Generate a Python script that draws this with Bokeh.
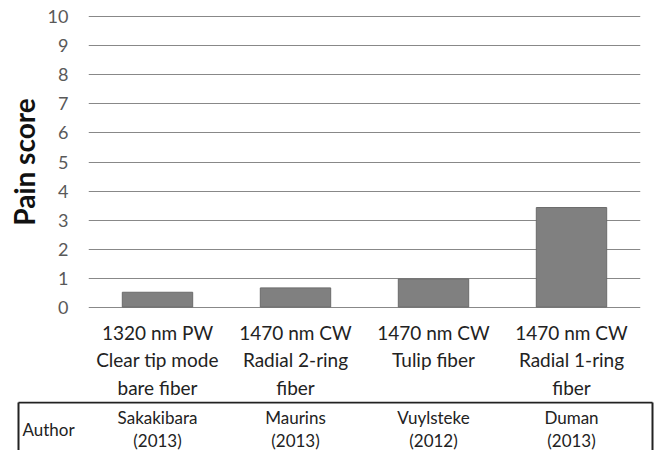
from bokeh.plotting import figure
from bokeh.models import FactorRange, Range1d, FixedTicker
from bokeh.layouts import column
from bokeh.core.properties import value
from bokeh.embed import file_html
from bokeh.resources import INLINE

# ---- data ----
category_labels = [
    "1320 nm PW\nClear tip mode\nbare fiber",
    "1470 nm CW\nRadial 2-ring\nfiber",
    "1470 nm CW\nTulip fiber",
    "1470 nm CW\nRadial 1-ring\nfiber",
]
pain_scores = [0.51, 0.66, 0.97, 3.43]
authors = ["Sakakibara", "Maurins", "Vuylsteke", "Duman"]
years = ["(2013)", "(2013)", "(2012)", "(2013)"]
y_ticks = list(range(0, 11))

FONT = "Lato"
W = 662
FL, FR = 88, 640          # frame left/right in px
TOP_H = 401
TABLE_H = 49

p = figure(width=W, height=TOP_H, x_range=FactorRange(*category_labels, range_padding=0),
           y_range=Range1d(-0.05, 10.05), output_backend="svg", toolbar_location=None,
           min_border_left=FL, min_border_right=W - FR, min_border_top=15,
           min_border_bottom=TOP_H - 309)
p.frame_align = False
p.outline_line_color = None
p.background_fill_color = "white"
p.border_fill_color = "white"

p.vbar(x=category_labels, top=pain_scores, width=0.51, fill_color="#808080",
       line_color="#6b6b6b", line_width=1)

p.xgrid.grid_line_color = None
p.ygrid.ticker = FixedTicker(ticks=y_ticks)
p.ygrid.grid_line_color = "#888888"
p.ygrid.grid_line_width = 1

p.yaxis.ticker = FixedTicker(ticks=y_ticks)
p.yaxis.axis_line_color = None
p.yaxis.major_tick_line_color = None
p.yaxis.minor_tick_line_color = None
p.yaxis.major_label_text_font = FONT
p.yaxis.major_label_text_font_size = "18px"
p.yaxis.major_label_text_color = "#595959"
p.yaxis.major_label_standoff = 14
p.yaxis.axis_label = "Pain score"
p.yaxis.axis_label_text_font = FONT
p.yaxis.axis_label_text_font_style = "bold"
p.yaxis.axis_label_text_font_size = "28px"
p.yaxis.axis_label_text_color = "#111111"
p.yaxis.axis_label_standoff = 4

p.xaxis.axis_line_color = None
p.xaxis.major_tick_line_color = None
p.xaxis.minor_tick_line_color = None
p.xaxis.major_label_text_font = FONT
p.xaxis.major_label_text_font_size = "19px"
p.xaxis.major_label_text_color = "#222222"
p.xaxis.major_label_standoff = 6

# ---- table below ----
step = (FR - FL) / len(category_labels)
t = figure(width=W, height=TABLE_H,
           x_range=Range1d(-FL / step, (W - FL) / step),
           y_range=Range1d(TABLE_H, 0), output_backend="svg",
           toolbar_location=None, min_border=0)
t.frame_align = False
t.outline_line_color = None
t.axis.visible = False
t.grid.visible = False
t.background_fill_color = "white"
t.border_fill_color = "white"

xl = (18 - FL) / step
xr = (652 - FL) / step
t.line(x=[xl, xr], y=[1, 1], line_color="#222222", line_width=2)
t.line(x=[xl, xl], y=[1, TABLE_H + 5], line_color="#222222", line_width=2)
t.line(x=[xr, xr], y=[1, TABLE_H + 5], line_color="#222222", line_width=2)

centers = [i + 0.5 for i in range(len(category_labels))]
t.text(x=[(22 - FL) / step], y=[28], text=["Author"], text_font=value(FONT),
       text_font_size="17px", text_color="#222222", text_baseline="middle",
       text_align="left")
t.text(x=centers, y=[16] * 4, text=authors, text_font=value(FONT),
       text_font_size="17px", text_color="#222222", text_baseline="middle",
       text_align="center")
t.text(x=centers, y=[39] * 4, text=years, text_font=value(FONT),
       text_font_size="17px", text_color="#222222", text_baseline="middle",
       text_align="center")

layout = column(p, t, spacing=0)
open("out.html", "w").write(file_html(layout, INLINE))
